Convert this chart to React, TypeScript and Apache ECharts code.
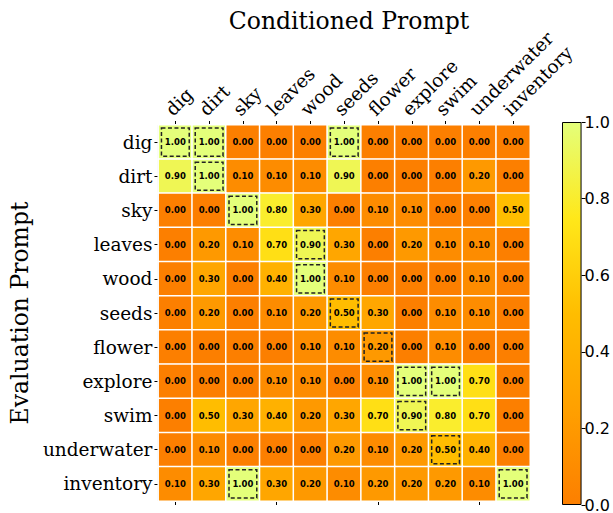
import React, { useEffect, useRef } from "react";
import * as echarts from "echarts";

const colCats = ["dig", "dirt", "sky", "leaves", "wood", "seeds", "flower", "explore", "swim", "underwater", "inventory"];
const rowCats = ["dig", "dirt", "sky", "leaves", "wood", "seeds", "flower", "explore", "swim", "underwater", "inventory"];

const rowDig = [1.0, 1.0, 0.0, 0.0, 0.0, 1.0, 0.0, 0.0, 0.0, 0.0, 0.0];
const rowDirt = [0.9, 1.0, 0.1, 0.1, 0.1, 0.9, 0.0, 0.0, 0.0, 0.2, 0.0];
const rowSky = [0.0, 0.0, 1.0, 0.8, 0.3, 0.0, 0.1, 0.1, 0.0, 0.0, 0.5];
const rowLeaves = [0.0, 0.2, 0.1, 0.7, 0.9, 0.3, 0.0, 0.2, 0.1, 0.1, 0.0];
const rowWood = [0.0, 0.3, 0.0, 0.4, 1.0, 0.1, 0.0, 0.0, 0.0, 0.1, 0.0];
const rowSeeds = [0.0, 0.2, 0.0, 0.1, 0.2, 0.5, 0.3, 0.0, 0.1, 0.1, 0.0];
const rowFlower = [0.0, 0.0, 0.0, 0.0, 0.1, 0.1, 0.2, 0.0, 0.1, 0.0, 0.0];
const rowExplore = [0.0, 0.0, 0.0, 0.1, 0.1, 0.0, 0.1, 1.0, 1.0, 0.7, 0.0];
const rowSwim = [0.0, 0.5, 0.3, 0.4, 0.2, 0.3, 0.7, 0.9, 0.8, 0.7, 0.0];
const rowUnderwater = [0.0, 0.1, 0.0, 0.0, 0.0, 0.2, 0.1, 0.2, 0.5, 0.4, 0.0];
const rowInventory = [0.1, 0.3, 1.0, 0.3, 0.2, 0.1, 0.2, 0.2, 0.2, 0.1, 1.0];

const matrix = [rowDig, rowDirt, rowSky, rowLeaves, rowWood, rowSeeds, rowFlower, rowExplore, rowSwim, rowUnderwater, rowInventory];

const colorbarTicks = [0, 0.2, 0.4, 0.6, 0.8, 1.0];
const wistiaR = ["#fc7f00", "#ffa000", "#ffbd00", "#ffe81a", "#e4ff7a"];

const SERIF = "DejaVu Serif";
const SANS = "DejaVu Sans";

export default function App() {
  const ref = useRef<HTMLDivElement>(null);
  useEffect(() => {
    document.body.style.margin = "0";
    if (!ref.current) return;
    const chart = echarts.init(ref.current, null, { renderer: "svg" });

    const heatData: number[][] = [];
    const boxData: number[][] = [];
    matrix.forEach((row, r) => {
      const mx = Math.max(...row);
      row.forEach((v, c) => {
        heatData.push([c, r, v]);
        if (v === mx) boxData.push([c, r, v]);
      });
    });

    const option: any = {
      animation: false,
      backgroundColor: "#fff",
      title: {
        text: "Conditioned Prompt",
        left: 344,
        top: 4,
        textAlign: "center",
        textStyle: { fontFamily: SERIF, fontSize: 23.5, fontWeight: "normal", color: "#000" },
      },
      grid: [
        { left: 157, top: 125, width: 373, height: 376, show: true, borderColor: "#000", borderWidth: 1, backgroundColor: "transparent" },
        { left: 562, top: 122, width: 20, height: 383, show: false },
      ],
      xAxis: [
        {
          type: "category",
          data: colCats,
          position: "top",
          gridIndex: 0,
          axisLine: { show: false },
          axisTick: { show: true, alignWithLabel: true, inside: false, length: 4, lineStyle: { color: "#000" } },
          axisLabel: { rotate: -45, interval: 0, verticalAlign: "bottom", fontFamily: SERIF, fontSize: 18.5, color: "#000", margin: 6 },
          splitLine: { show: false },
        },
        {
          type: "category",
          data: colCats,
          position: "bottom",
          gridIndex: 0,
          axisLine: { show: false },
          axisTick: { show: true, alignWithLabel: true, length: 4, lineStyle: { color: "#000" } },
          axisLabel: { show: false },
        },
        { type: "category", data: ["c"], gridIndex: 1, show: false },
      ],
      yAxis: [
        {
          type: "category",
          data: rowCats,
          inverse: true,
          gridIndex: 0,
          name: "Evaluation Prompt",
          nameLocation: "middle",
          nameGap: 118,
          nameTextStyle: { fontFamily: SERIF, fontSize: 23.5, color: "#000" },
          axisLine: { show: false },
          axisTick: { show: true, alignWithLabel: true, length: 4, lineStyle: { color: "#000" } },
          axisLabel: { interval: 0, fontFamily: SERIF, fontSize: 18.5, color: "#000", margin: 6 },
        },
        {
          type: "value",
          gridIndex: 1,
          min: 0,
          max: 1,
          interval: 0.2,
          position: "right",
          axisLine: { show: false },
          axisTick: { show: true, length: 4, lineStyle: { color: "#000" } },
          axisLabel: {
            fontFamily: SANS,
            fontSize: 16,
            color: "#000",
            margin: 3,
            formatter: (v: number) => (colorbarTicks.some((t) => Math.abs(t - v) < 1e-9) ? v.toFixed(1) : ""),
          },
          splitLine: { show: false },
        },
      ],
      visualMap: {
        show: false,
        type: "continuous",
        min: 0,
        max: 1,
        seriesIndex: 0,
        dimension: 2,
        inRange: { color: wistiaR },
      },
      series: [
        {
          type: "heatmap",
          xAxisIndex: 0,
          yAxisIndex: 0,
          data: heatData,
          itemStyle: { borderColor: "#fff", borderWidth: 1.5 },
          label: {
            show: true,
            formatter: (p: any) => p.value[2].toFixed(2),
            fontFamily: SANS,
            fontSize: 8.5,
            fontWeight: "bold",
            color: "#000",
          },
          emphasis: { disabled: true },
        },
        {
          type: "custom",
          xAxisIndex: 0,
          yAxisIndex: 0,
          data: boxData,
          z: 5,
          silent: true,
          renderItem: (params: any, api: any) => {
            const c = api.coord([api.value(0), api.value(1)]);
            const s = api.size([1, 1]);
            const inset = 3;
            return {
              type: "rect",
              shape: { x: c[0] - s[0] / 2 + inset, y: c[1] - s[1] / 2 + inset, width: s[0] - inset * 2, height: s[1] - inset * 2 },
              style: { fill: "none", stroke: "#222", lineWidth: 1.5, lineDash: [4, 2.5] },
            };
          },
        },
        {
          type: "bar",
          xAxisIndex: 2,
          yAxisIndex: 1,
          data: [1],
          barWidth: "100%",
          silent: true,
          itemStyle: {
            borderColor: "#000",
            borderWidth: 1,
            color: new echarts.graphic.LinearGradient(0, 1, 0, 0, wistiaR.map((c, i) => ({ offset: i / (wistiaR.length - 1), color: c }))),
          },
        },
      ],
    };
    chart.setOption(option);
    return () => chart.dispose();
  }, []);
  return <div ref={ref} style={{ width: 613, height: 513 }} />;
}
